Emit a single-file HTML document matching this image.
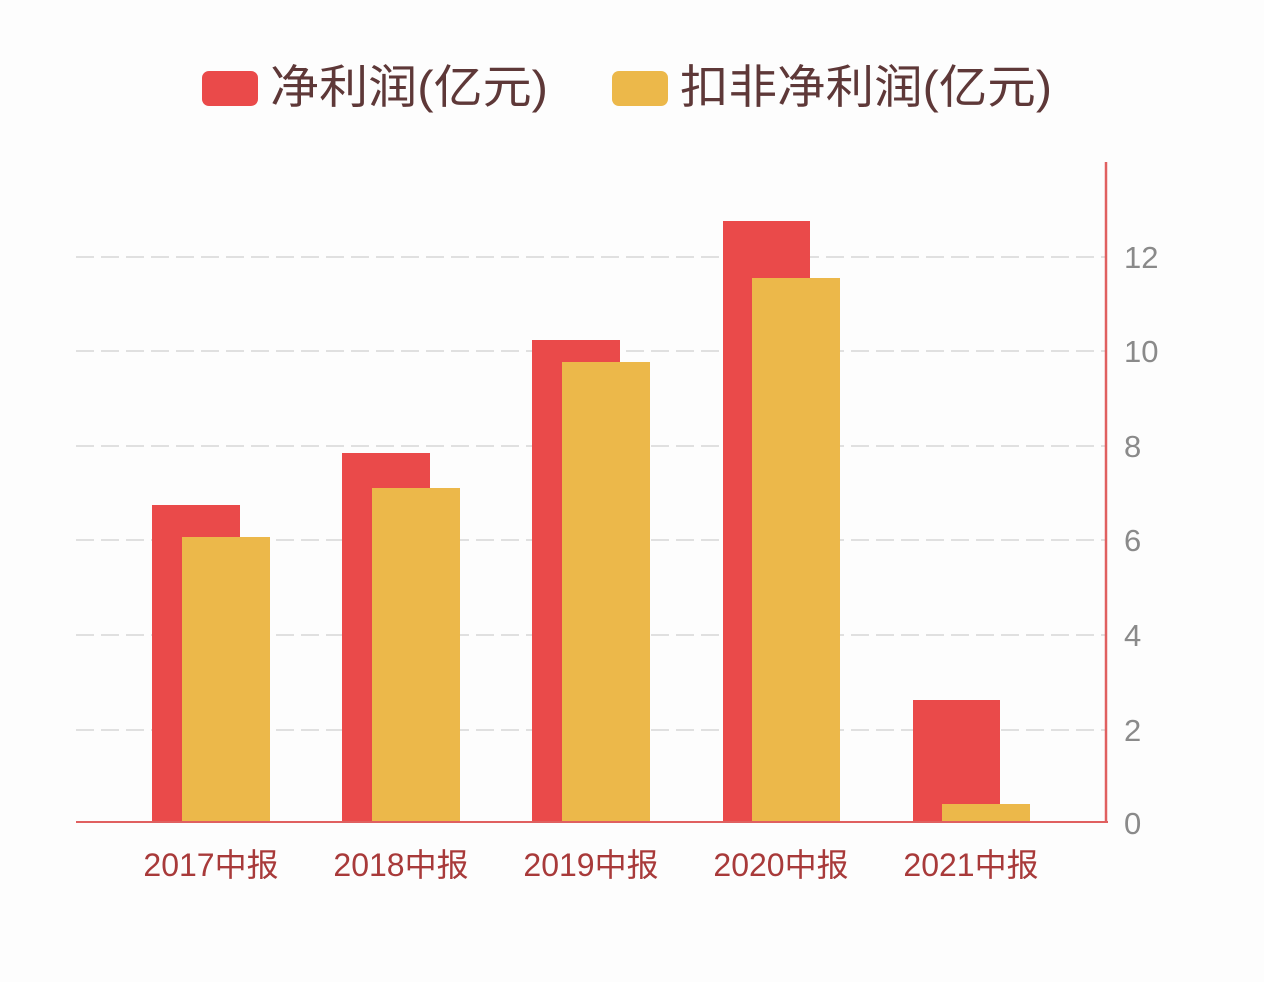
<!DOCTYPE html>
<html><head><meta charset="utf-8"><style>
body{margin:0;background:#fdfdfd;}
svg{display:block;}
</style></head><body>
<svg width="1264" height="982" xmlns="http://www.w3.org/2000/svg" font-family="Liberation Sans, Noto Sans CJK SC, sans-serif">
<rect width="1264" height="982" fill="#fdfdfd"/>
<rect x="202" y="71" width="56" height="35" rx="7" fill="#ea4a4a"/>
<text x="270" y="103" font-size="46" fill="#5e3838" textLength="278" lengthAdjust="spacingAndGlyphs">净利润(亿元)</text>
<rect x="612" y="71" width="56" height="35" rx="7" fill="#ecb84a"/>
<text x="680" y="103" font-size="46" fill="#5e3838" textLength="372" lengthAdjust="spacingAndGlyphs">扣非净利润(亿元)</text>
<g stroke="#d6d6d6" stroke-width="1.5" stroke-dasharray="18,7">
<line x1="76" y1="257" x2="1106" y2="257"/>
<line x1="76" y1="351" x2="1106" y2="351"/>
<line x1="76" y1="446" x2="1106" y2="446"/>
<line x1="76" y1="540" x2="1106" y2="540"/>
<line x1="76" y1="635" x2="1106" y2="635"/>
<line x1="76" y1="730" x2="1106" y2="730"/>
</g>
<g fill="#ea4a4a">
<rect x="152" y="505" width="88" height="317"/>
<rect x="342" y="453" width="88" height="369"/>
<rect x="532" y="340" width="88" height="482"/>
<rect x="723" y="221" width="87" height="601"/>
<rect x="913" y="700" width="87" height="122"/>
</g>
<g fill="#ecb84a">
<rect x="182" y="537" width="88" height="285"/>
<rect x="372" y="488" width="88" height="334"/>
<rect x="562" y="362" width="88" height="460"/>
<rect x="752" y="278" width="88" height="544"/>
<rect x="942" y="804" width="88" height="18"/>
</g>
<line x1="76" y1="822" x2="1108" y2="822" stroke="#e06060" stroke-width="2"/>
<line x1="1106" y1="162" x2="1106" y2="823" stroke="#e06060" stroke-width="2.5"/>
<g font-size="31" fill="#8a8a8a">
<text x="1124" y="268">12</text>
<text x="1124" y="362">10</text>
<text x="1124" y="457">8</text>
<text x="1124" y="551">6</text>
<text x="1124" y="646">4</text>
<text x="1124" y="741">2</text>
<text x="1124" y="834">0</text>
</g>
<g font-size="32" fill="#a83a3a" text-anchor="middle">
<text x="211" y="876">2017中报</text>
<text x="401" y="876">2018中报</text>
<text x="591" y="876">2019中报</text>
<text x="781" y="876">2020中报</text>
<text x="971" y="876">2021中报</text>
</g>
</svg>
</body></html>
